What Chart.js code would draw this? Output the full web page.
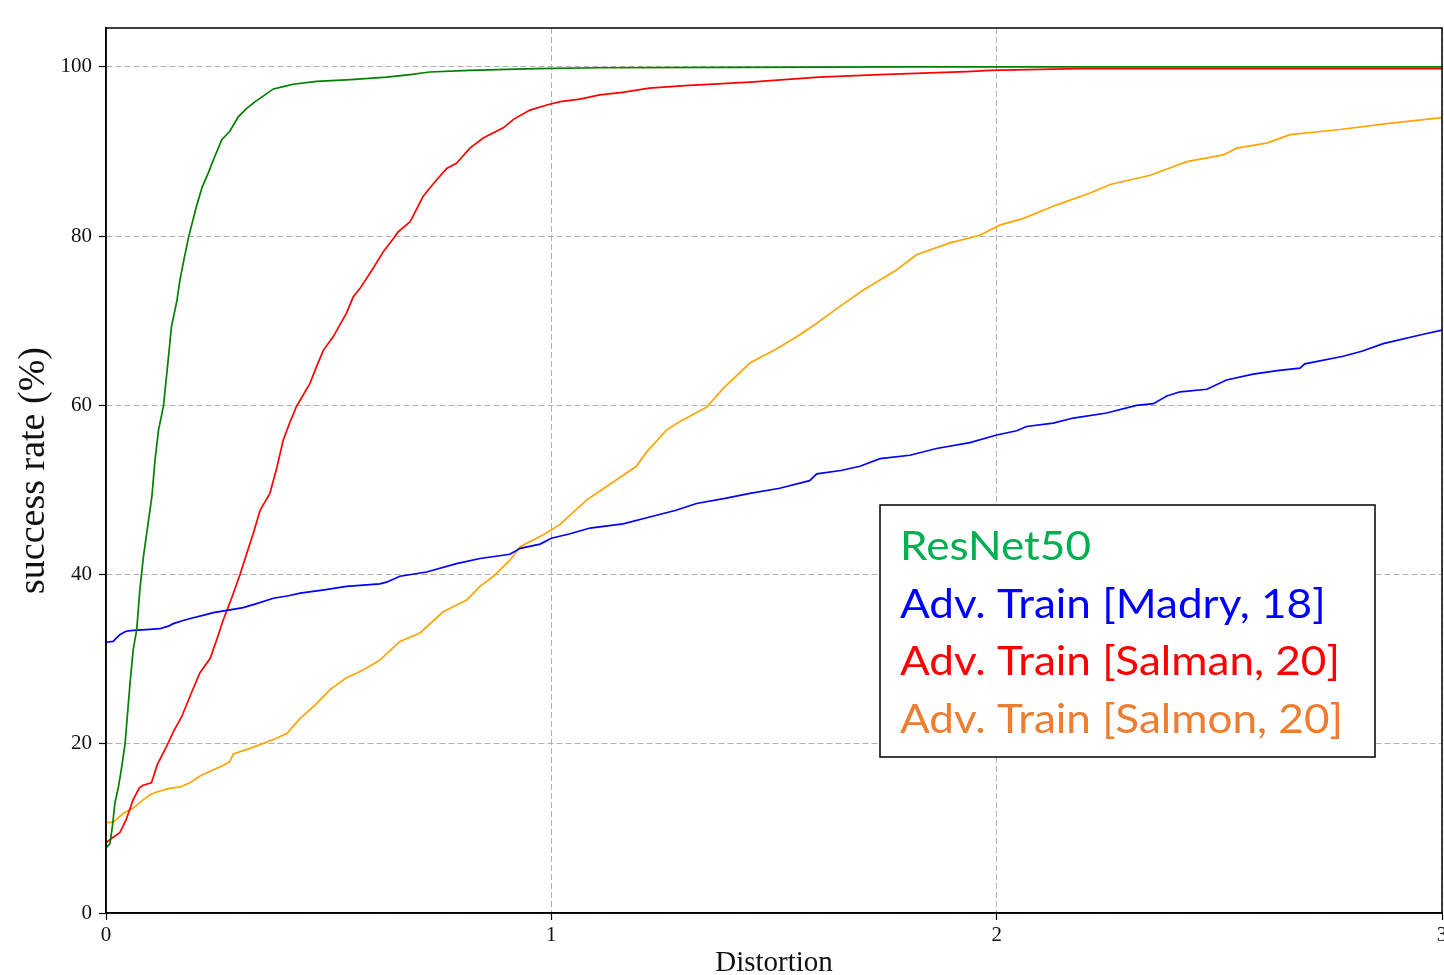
<!DOCTYPE html>
<html>
<head>
<meta charset="utf-8">
<script src="https://cdn.jsdelivr.net/npm/chart.js@4.4.1/dist/chart.umd.min.js"></script>
<style>
  html, body { margin: 0; padding: 0; background: #fff; }
  #wrap { width: 1444px; height: 975px; }
</style>
</head>
<body>
<div id="wrap"><canvas id="c" width="1444" height="975"></canvas></div>
<script>
// success rate (%) versus distortion, one [distortion, rate] pair per sample
const resnet50 = [
  [0, 7.7], [0.009, 8.2], [0.015, 10.5], [0.02, 13], [0.028, 14.9], [0.036, 17.5],
  [0.043, 20.1], [0.054, 27.2], [0.061, 31.1], [0.069, 33.5], [0.076, 38.2], [0.084, 42.1],
  [0.093, 45.5], [0.103, 49.2], [0.11, 53.5], [0.118, 57.1], [0.129, 59.9], [0.137, 64],
  [0.147, 69.3], [0.159, 72.3], [0.166, 74.8], [0.176, 77.5], [0.186, 80], [0.203, 83.5],
  [0.216, 85.8], [0.23, 87.5], [0.241, 89], [0.26, 91.4], [0.278, 92.4], [0.297, 94.1],
  [0.316, 95.1], [0.335, 95.9], [0.357, 96.7], [0.376, 97.4], [0.4, 97.7], [0.42, 97.95],
  [0.473, 98.3], [0.55, 98.5], [0.63, 98.8], [0.683, 99.1], [0.727, 99.4], [0.817, 99.6],
  [0.9, 99.7], [0.967, 99.8], [1.109, 99.9], [1.4, 99.95], [1.8, 100], [2.2, 100],
  [2.6, 100], [3.0, 100]
];
const madry18 = [
  [0, 32], [0.016, 32.1], [0.031, 32.9], [0.045, 33.3], [0.061, 33.4], [0.09, 33.5],
  [0.121, 33.6], [0.14, 33.9], [0.151, 34.2], [0.175, 34.6], [0.196, 34.9], [0.22, 35.2],
  [0.241, 35.5], [0.275, 35.8], [0.308, 36.1], [0.34, 36.6], [0.376, 37.2], [0.41, 37.5],
  [0.436, 37.8], [0.49, 38.2], [0.54, 38.6], [0.615, 38.9], [0.63, 39.1], [0.66, 39.8],
  [0.72, 40.3], [0.787, 41.3], [0.84, 41.9], [0.907, 42.4], [0.93, 43.1], [0.975, 43.6],
  [1.0, 44.3], [1.04, 44.8], [1.087, 45.5], [1.161, 46], [1.221, 46.8], [1.28, 47.6],
  [1.326, 48.4], [1.39, 49], [1.446, 49.6], [1.513, 50.2], [1.58, 51.1], [1.596, 51.9],
  [1.65, 52.3], [1.693, 52.8], [1.738, 53.7], [1.805, 54.1], [1.865, 54.9], [1.94, 55.6],
  [2.0, 56.5], [2.045, 57], [2.067, 57.5], [2.127, 57.9], [2.172, 58.5], [2.247, 59.1],
  [2.314, 60], [2.352, 60.2], [2.382, 61.1], [2.412, 61.6], [2.472, 61.9], [2.516, 63],
  [2.576, 63.7], [2.63, 64.1], [2.681, 64.4], [2.692, 64.9], [2.778, 65.8], [2.82, 66.4],
  [2.868, 67.3], [2.958, 68.4], [3.0, 68.9]
];
const salman20 = [
  [0, 8.3], [0.012, 8.8], [0.031, 9.5], [0.045, 11], [0.061, 13.4], [0.075, 14.8],
  [0.083, 15.1], [0.102, 15.4], [0.115, 17.5], [0.136, 19.7], [0.152, 21.5], [0.17, 23.2],
  [0.19, 25.8], [0.211, 28.4], [0.234, 30.1], [0.248, 32.2], [0.263, 34.6], [0.282, 37.2],
  [0.301, 40], [0.316, 42.5], [0.331, 44.9], [0.346, 47.6], [0.368, 49.6], [0.383, 52.5],
  [0.398, 55.9], [0.413, 58], [0.428, 59.9], [0.458, 62.6], [0.473, 64.6], [0.488, 66.5],
  [0.51, 68.1], [0.54, 70.9], [0.555, 72.8], [0.57, 73.8], [0.6, 76.2], [0.623, 78.2],
  [0.645, 79.7], [0.656, 80.5], [0.683, 81.7], [0.712, 84.7], [0.735, 86.2], [0.765, 88],
  [0.787, 88.6], [0.817, 90.4], [0.847, 91.6], [0.892, 92.8], [0.915, 93.8], [0.952, 94.9],
  [0.99, 95.5], [1.02, 95.9], [1.064, 96.2], [1.109, 96.7], [1.16, 97.0], [1.22, 97.5],
  [1.3, 97.8], [1.446, 98.2], [1.6, 98.8], [1.738, 99.1], [1.85, 99.3], [1.933, 99.45],
  [1.985, 99.6], [2.1, 99.7], [2.187, 99.8], [2.5, 99.8], [3.0, 99.8]
];
const salmon20 = [
  [0, 10.7], [0.016, 10.7], [0.039, 11.8], [0.061, 12.4], [0.084, 13.4], [0.1, 14],
  [0.114, 14.3], [0.14, 14.7], [0.166, 14.9], [0.189, 15.4], [0.211, 16.2], [0.24, 16.9],
  [0.262, 17.4], [0.278, 17.9], [0.286, 18.8], [0.32, 19.4], [0.346, 19.9], [0.38, 20.6],
  [0.406, 21.2], [0.436, 23], [0.47, 24.6], [0.503, 26.4], [0.54, 27.8], [0.565, 28.4],
  [0.593, 29.2], [0.615, 29.9], [0.66, 32.1], [0.705, 33.1], [0.757, 35.6], [0.81, 37],
  [0.84, 38.6], [0.87, 39.8], [0.907, 41.7], [0.93, 43.3], [0.982, 44.7], [1.019, 45.9],
  [1.079, 48.8], [1.124, 50.4], [1.191, 52.8], [1.214, 54.5], [1.259, 57.1], [1.289, 58.1],
  [1.349, 59.8], [1.386, 62], [1.446, 65], [1.506, 66.7], [1.551, 68.1], [1.596, 69.7],
  [1.648, 71.7], [1.7, 73.6], [1.775, 76], [1.82, 77.8], [1.895, 79.2], [1.962, 80.1],
  [2.007, 81.3], [2.06, 82.1], [2.135, 83.7], [2.21, 85.1], [2.255, 86.1], [2.345, 87.2],
  [2.427, 88.8], [2.509, 89.6], [2.539, 90.4], [2.606, 91], [2.659, 92], [2.771, 92.6],
  [2.876, 93.3], [3.0, 94]
];

const seriesLabels = ['ResNet50', 'Adv. Train [Madry, 18]', 'Adv. Train [Salman, 20]', 'Adv. Train [Salmon, 20]'];
const lineColors = ['#008000', '#0000ff', '#ff0000', '#ffa500'];
const legendColors = ['#00b050', '#0000ff', '#ff0000', '#ed7d31'];
const xTicks = [0, 1, 2, 3];
const yTicks = [0, 20, 40, 60, 80, 100];

const toPoints = pairs => pairs.map(([x, y]) => ({ x, y }));
const seriesData = [resnet50, madry18, salman20, salmon20];

const serif = "'Liberation Serif', 'Times New Roman', serif";

// closes the plot frame on the top and right
const frame = {
  id: 'frame',
  afterDatasetsDraw(chart) {
    const { ctx, chartArea: a } = chart;
    ctx.save();
    ctx.strokeStyle = '#000';
    ctx.lineWidth = 1.5;
    ctx.strokeRect(a.left, a.top, a.right - a.left, a.bottom - a.top);
    ctx.restore();
  }
};

// boxed text legend drawn inside the plot, one coloured line per series
const insetLegend = {
  id: 'insetLegend',
  afterDraw(chart) {
    const { ctx } = chart;
    const box = { x: 880, y: 505, w: 495, h: 252 };
    const textLeft = 900, firstBaseline = 560, lineStep = 57.6, textWidth = 443;
    ctx.save();
    ctx.fillStyle = '#fff';
    ctx.fillRect(box.x, box.y, box.w, box.h);
    ctx.strokeStyle = '#000';
    ctx.lineWidth = 1.5;
    ctx.strokeRect(box.x, box.y, box.w, box.h);
    ctx.font = "40px Lato, 'Noto Sans', sans-serif";
    ctx.textBaseline = 'alphabetic';
    ctx.textAlign = 'left';
    const labels = chart.data.datasets.map(ds => ds.label);
    const widest = Math.max(...labels.map(t => ctx.measureText(t).width));
    const sx = textWidth / widest;
    labels.forEach((text, i) => {
      ctx.save();
      ctx.translate(textLeft, firstBaseline + i * lineStep);
      ctx.scale(sx, 1);
      ctx.fillStyle = legendColors[i];
      ctx.fillText(text, 0, 0);
      ctx.restore();
    });
    ctx.restore();
  }
};

new Chart(document.getElementById('c'), {
  type: 'line',
  data: {
    datasets: seriesData.map((pairs, i) => ({
      label: seriesLabels[i],
      data: toPoints(pairs),
      borderColor: lineColors[i],
      backgroundColor: lineColors[i],
      borderWidth: 1.7,
      pointRadius: 0,
      tension: 0,
      fill: false
    }))
  },
  options: {
    responsive: false,
    animation: false,
    devicePixelRatio: 1,
    layout: { padding: { left: 0, top: 28, right: 2, bottom: 0 } },
    plugins: { legend: { display: false }, tooltip: { enabled: false } },
    scales: {
      x: {
        type: 'linear',
        min: 0,
        max: 3,
        afterBuildTicks(scale) { scale.ticks = xTicks.map(v => ({ value: v })); },
        afterFit(scale) { scale.height = 62; scale.paddingLeft = 0; scale.paddingRight = 0; },
        ticks: {
          autoSkip: false, maxRotation: 0, padding: 3, color: '#111',
          font: { family: serif, size: 21 },
          callback: v => String(v)
        },
        grid: {
          color: '#b0b0b0', lineWidth: 1,
          tickLength: 7, tickColor: '#000', tickWidth: 1.2, tickBorderDash: []
        },
        border: { display: true, color: '#000', width: 1.5, dash: [6, 3] },
        title: {
          display: true, text: 'Distortion', color: '#111',
          font: { family: serif, size: 29, lineHeight: 1 },
          padding: { top: 0, bottom: -2.5 }
        }
      },
      y: {
        type: 'linear',
        min: 0,
        max: 104.6,
        afterBuildTicks(scale) { scale.ticks = yTicks.map(v => ({ value: v })); },
        afterFit(scale) { scale.width = 106; scale.paddingTop = 0; scale.paddingBottom = 0; },
        ticks: {
          autoSkip: false, padding: 7, color: '#111',
          font: { family: serif, size: 21 },
          callback: v => String(v)
        },
        grid: {
          color: '#b0b0b0', lineWidth: 1,
          tickLength: 7, tickColor: '#000', tickWidth: 1.2, tickBorderDash: []
        },
        border: { display: true, color: '#000', width: 1.5, dash: [6, 3] },
        title: {
          display: true, text: 'success rate (%)', color: '#111',
          font: { family: serif, size: 38, lineHeight: 1 },
          padding: { top: 15, bottom: 0 }
        }
      }
    }
  },
  plugins: [frame, insetLegend]
});
</script>
</body>
</html>
